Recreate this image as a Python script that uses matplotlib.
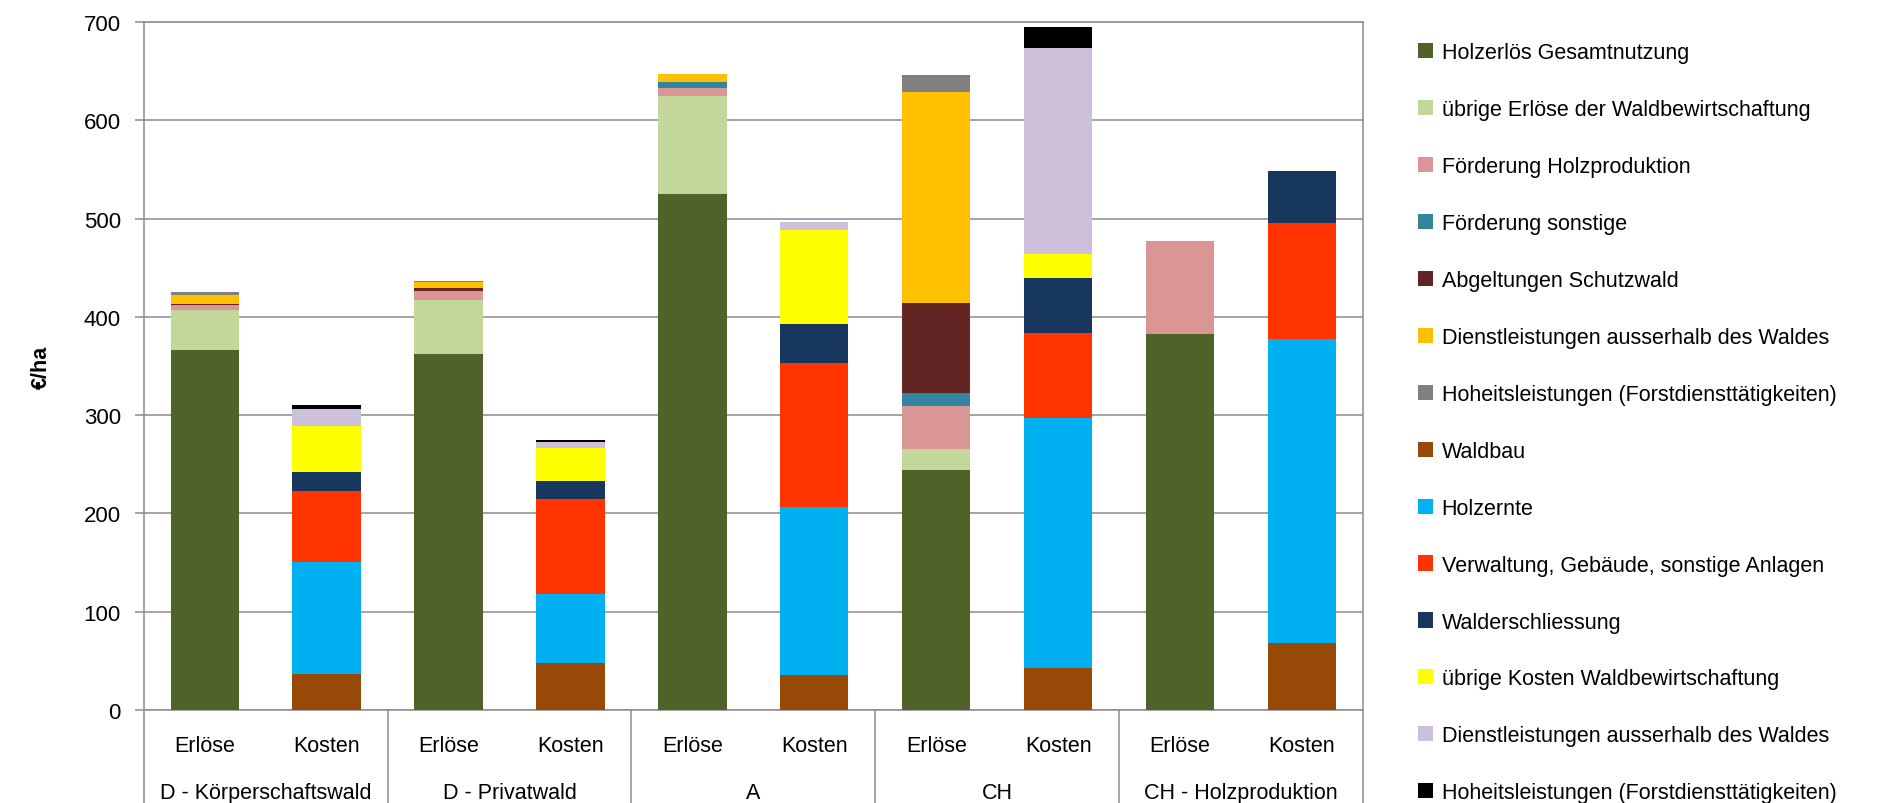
import numpy as np
import matplotlib.pyplot as plt
from matplotlib.patches import Patch

plt.rcParams['font.family'] = ['Liberation Sans', 'DejaVu Sans']

groups = ['D - Körperschaftswald', 'D - Privatwald', 'A', 'CH', 'CH - Holzproduktion']
bar_labels = ['Erlöse', 'Kosten']

# Erlöse (€/ha) per group
holzerloes = [366, 362, 525, 244, 383]
uebrige_erloese = [41, 55, 100, 22, 0]
foerderung_holz = [5, 9, 8, 43, 94]
foerderung_sonstige = [0, 0, 6, 14, 0]
abgeltung_schutzwald = [1, 3.5, 0, 91, 0]
dienstleistung_erl = [9.5, 5.5, 8, 215, 0]
hoheit_erl = [2.5, 1.5, 0, 17, 0]

# Kosten (€/ha) per group
waldbau = [37, 47.5, 35.5, 43, 68]
holzernte = [114, 70.5, 171, 254, 309]
verwaltung = [72, 97, 147, 87, 118.5]
erschliessung = [19, 18, 39, 56, 53]
uebrige_kosten = [47, 34, 96, 23.5, 0]
dienstleistung_kost = [17, 6, 8, 210, 0]
hoheit_kost = [4, 2, 0, 21, 0]

erloese_series = [
    (holzerloes, 'Holzerlös Gesamtnutzung', '#4F6228'),
    (uebrige_erloese, 'übrige Erlöse der Waldbewirtschaftung', '#C4D79B'),
    (foerderung_holz, 'Förderung Holzproduktion', '#DA9694'),
    (foerderung_sonstige, 'Förderung sonstige', '#31859C'),
    (abgeltung_schutzwald, 'Abgeltungen Schutzwald', '#632523'),
    (dienstleistung_erl, 'Dienstleistungen ausserhalb des Waldes', '#FFC000'),
    (hoheit_erl, 'Hoheitsleistungen (Forstdiensttätigkeiten)', '#808080'),
]
kosten_series = [
    (waldbau, 'Waldbau', '#984807'),
    (holzernte, 'Holzernte', '#00B0F0'),
    (verwaltung, 'Verwaltung, Gebäude, sonstige Anlagen', '#FF3300'),
    (erschliessung, 'Walderschliessung', '#17375E'),
    (uebrige_kosten, 'übrige Kosten Waldbewirtschaftung', '#FFFF00'),
    (dienstleistung_kost, 'Dienstleistungen ausserhalb des Waldes', '#CCC0DA'),
    (hoheit_kost, 'Hoheitsleistungen (Forstdiensttätigkeiten)', '#000000'),
]

grey = '#8C8C8C'
fs = 15.5

fig = plt.figure(figsize=(18.78, 8.04), dpi=100)
ax = fig.add_axes([143.7 / 1878, 1 - 711 / 804, (1363 - 143.7) / 1878, 688 / 804])

n = len(groups)
x_erl = np.arange(n) * 2
x_kost = x_erl + 1
width = 0.56

handles = []
for xs, series in ((x_erl, erloese_series), (x_kost, kosten_series)):
    bottom = np.zeros(n)
    for vals, label, color in series:
        vals = np.array(vals, dtype=float)
        ax.bar(xs, vals, width, bottom=bottom, color=color, zorder=3)
        bottom += vals
        handles.append(Patch(facecolor=color, label=label))

ax.set_xlim(-0.5, 2 * n - 0.5)
ax.set_ylim(0, 700)
ax.set_yticks(range(0, 701, 100))
ax.yaxis.grid(True, color=grey, linewidth=1.1, zorder=0)
ax.tick_params(axis='y', length=6.5, width=1.1, color=grey, labelsize=fs + 0.5, pad=10)
ax.set_xticks([])
for s in ax.spines.values():
    s.set_color(grey)
    s.set_linewidth(1.1)

ax.set_ylabel('€/ha', fontsize=fs, fontweight='bold', labelpad=23)

# category labels below the axis
trans = ax.get_xaxis_transform()
for i in range(n):
    ax.text(x_erl[i], -0.051, bar_labels[0], transform=trans, ha='center', va='center', fontsize=fs)
    ax.text(x_kost[i], -0.051, bar_labels[1], transform=trans, ha='center', va='center', fontsize=fs)
    ax.text(x_erl[i] + 0.5, -0.12, groups[i], transform=trans, ha='center', va='center', fontsize=fs)
seps = np.arange(n + 1) * 2 - 0.5
ax.vlines(seps, -0.14, 0, transform=trans, colors=grey, linewidth=1.1, clip_on=False)

fig.legend(handles=handles, loc='upper left', bbox_to_anchor=(1418 / 1878, 1 - 43 / 804),
           frameon=False, fontsize=fs, handlelength=0.7, handleheight=0.7,
           handletextpad=0.4, labelspacing=1.67, borderpad=0, borderaxespad=0)

fig.savefig('out.png', dpi=100)
